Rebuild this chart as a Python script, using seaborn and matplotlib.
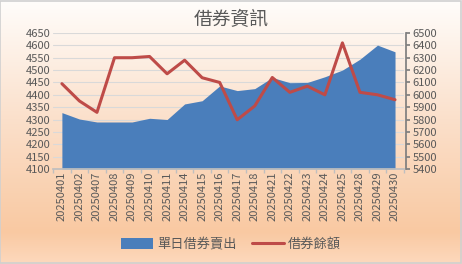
import numpy as np
import pandas as pd
import matplotlib
matplotlib.use("Agg")
import matplotlib.pyplot as plt
import seaborn as sns
from matplotlib.colors import LinearSegmentedColormap
from matplotlib.patches import Patch
from matplotlib.lines import Line2D

dates = ["20250401", "20250402", "20250407", "20250408", "20250409", "20250410",
         "20250411", "20250414", "20250415", "20250416", "20250417", "20250418",
         "20250421", "20250422", "20250423", "20250424", "20250425", "20250428",
         "20250429", "20250430"]
daily_short_sell = [4328, 4302, 4290, 4290, 4290, 4305, 4300, 4363, 4376, 4436,
                    4417, 4425, 4470, 4449, 4450, 4473, 4500, 4544, 4601, 4574]
short_balance = [6090, 5950, 5858, 6300, 6300, 6310, 6170, 6280, 6138, 6100,
                 5798, 5910, 6140, 6020, 6070, 6000, 6420, 6020, 6000, 5960]
left_ticks = list(range(4100, 4651, 50))
right_ticks = list(range(5400, 6501, 100))
title = "借券資訊"
legend_labels = ["單日借券賣出", "借券餘額"]

sns.set_theme(style="white")
plt.rcParams['font.family'] = ['Noto Sans CJK TC', 'DejaVu Sans']

df = pd.DataFrame({"date": dates, "sell": daily_short_sell, "balance": short_balance})
df["x"] = np.arange(len(df))

fig = plt.figure(figsize=(4.62, 2.64), dpi=100)

# background gradient
bg = fig.add_axes([0, 0, 1, 1], zorder=-10)
cmap = LinearSegmentedColormap.from_list(
    "bg", [(0, "#fdd9bd"), (0.12, "#f9c9a2"), (0.55, "#fbe0cb"), (1.0, "#fffdfb")])
grad = np.linspace(0, 1, 256).reshape(-1, 1)
bg.imshow(grad, aspect="auto", cmap=cmap, origin="lower", extent=[0, 1, 0, 1])
bg.set_axis_off()
bg.add_patch(plt.Rectangle((0.001, 0.002), 0.997, 0.995, fill=False,
                           edgecolor="#d0d0d0", lw=1.2, transform=bg.transAxes))

ax = fig.add_axes([0.115, 0.36, 0.759, 0.515])
ax.patch.set_alpha(0)
ax.fill_between(df["x"], 4100, df["sell"], color="#4a7ebb", lw=0, zorder=2)
ax.set_xlim(-0.5, len(df) - 0.5)
ax.set_ylim(4100, 4650)
ax.set_yticks(left_ticks)
ax.set_yticklabels([str(t) for t in left_ticks])
ax.set_xticks(df["x"])
ax.set_xticklabels(dates, rotation=90)
ax.set_xticks(np.arange(-0.5, len(df), 1), minor=True)
ax.tick_params(axis="x", which="minor", length=3, color="#bfbfbf", direction="out", bottom=True)
ax.tick_params(axis="x", which="major", length=0, pad=2)
ax.tick_params(axis="both", labelsize=8, labelcolor="#595959")
ax.tick_params(axis="y", length=0, pad=2)
ax.grid(axis="y", color="#d9d9d9", lw=0.8, zorder=0)
ax.set_axisbelow(True)
for s in ["top", "right", "left"]:
    ax.spines[s].set_visible(False)
ax.spines["bottom"].set_color("#bfbfbf")
ax.set_xlabel("")
ax.set_ylabel("")

ax2 = ax.twinx()
sns.lineplot(data=df, x="x", y="balance", ax=ax2, color="#be4b48", lw=2.2, zorder=3)
ax2.set_ylim(5400, 6500)
ax2.set_yticks(right_ticks)
ax2.set_yticklabels([str(t) for t in right_ticks])
ax2.tick_params(axis="y", labelsize=8, labelcolor="#595959", length=3, color="#7f7f7f",
                direction="out", right=True, pad=2)
for s in ["top", "left", "bottom"]:
    ax2.spines[s].set_visible(False)
ax2.spines["right"].set_color("#7f7f7f")
ax2.spines["right"].set_position(("data", len(df) - 0.5 + 0.1))
ax2.set_xlabel("")
ax2.set_ylabel("")

fig.text(0.5, 0.925, title, ha="center", va="center", fontsize=13.5, color="#595959")

handles = [Patch(facecolor="#4a7ebb", edgecolor="none"),
           Line2D([0], [0], color="#be4b48", lw=2.2)]
fig.legend(handles, legend_labels, loc="center", bbox_to_anchor=(0.5, 0.075), ncol=2,
           frameon=False, fontsize=9.5, labelcolor="#595959", handlelength=2.4,
           handleheight=0.9, handletextpad=0.3, columnspacing=1.2)

fig.savefig("out.png", dpi=100)
